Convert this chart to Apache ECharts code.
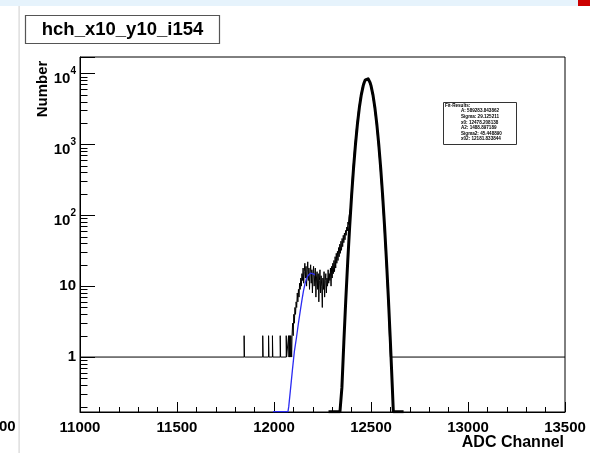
<!DOCTYPE html>
<html>
<head>
<meta charset="utf-8">
<script src="https://cdn.jsdelivr.net/npm/echarts@6/dist/echarts.min.js"></script>
<style>
  html, body { margin: 0; padding: 0; background: #fff; }
  #chart { width: 590px; height: 453px; }
</style>
</head>
<body>
<div id="chart"></div>
<script>
// ---- Histogram hch_x10_y10_i154 : ADC channel spectrum ----
const xMin = 11000, xMax = 13500, xStep = 500;
const yMin = 0.168, yMax = 17000;
const yMinorTicks = [0.2, 0.3, 0.4, 0.5, 0.6, 0.7, 0.8, 0.9,
  2, 3, 4, 5, 6, 7, 8, 9,
  20, 30, 40, 50, 60, 70, 80, 90,
  200, 300, 400, 500, 600, 700, 800, 900,
  2000, 3000, 4000, 5000, 6000, 7000, 8000, 9000];

// sparse low-side channels: left edge of each run and its content
const lowEdges  = [11000, 11846, 11848, 11942, 11944, 11972, 11974, 11992, 11994, 12032, 12034,
  12063, 12065, 12075, 12077, 12079, 12080, 12083, 12085, 12087, 12091, 12093];
const lowCounts = [1, 2, 1, 2, 1, 2, 1, 2, 1, 2, 1,
  2, 1, 2, 1, 2, 1, 2, 1, 2, 1, 2];

// shoulder region, 3-channel bins starting at 12096
const shoulderStart = 12096, shoulderWidth = 3;
const shoulderCounts = [3, 2, 4, 3, 5, 4, 6, 5, 8, 6, 9, 7, 11, 9, 13, 10, 15, 12, 18, 11,
  16, 21, 13, 19, 10, 17, 22, 12, 18, 9, 16, 20, 11, 17, 8, 15, 19, 10, 14, 18,
  7, 13, 16, 9, 15, 6, 12, 17, 8, 14, 10, 5, 13, 9, 16, 7, 12, 15, 8, 13,
  10, 17, 11, 15, 12, 18, 10, 19, 13, 21, 15, 23, 16, 26, 18, 29, 21, 31, 23, 35,
  26, 39, 29, 43, 32, 47, 36, 52, 41, 56, 45, 61, 52, 68, 60, 80, 74, 96, 100, 120, 132];

// main peak, 5-channel bins starting at 12400
const peakStart = 12400, peakWidth = 5;
const peakCounts = [236, 378, 561, 840, 1182, 1662, 2210, 2917, 3670, 4552, 5405, 6310, 7070,
  7762, 8205, 8480, 8455, 8238, 7731, 7102, 6275, 5440, 4521, 3697, 2890, 2236, 1641, 1198,
  826, 570, 369, 242, 147, 91, 52, 30, 17, 9, 5, 2];

// high-side flat part
const highEdges  = [12600, 13500];
const highCounts = [1, 1];

// Gaussian fit of the main peak (sampled curve)
const fitX = [12281, 12340, 12345, 12350, 12360, 12370, 12380, 12390, 12400, 12410, 12420,
  12430, 12440, 12450, 12460, 12465, 12470, 12475, 12480, 12485, 12490, 12495, 12500,
  12510, 12520, 12530, 12540, 12550, 12560, 12570, 12580, 12590, 12600, 12610, 12615, 12668];
const fitY = [0.17, 0.17, 0.17, 0.37, 1.62, 6.4, 22.2, 68.9, 189, 461, 1000,
  1925, 3285, 4980, 6700, 7436, 8010, 8375, 8500, 8375, 8010, 7436, 6700,
  4980, 3285, 1925, 1000, 461, 189, 68.9, 22.2, 6.4, 1.62, 0.37, 0.17, 0.17];

// Gaussian fit of the shoulder (sampled curve)
const fit2X = [11995, 12072, 12076, 12085, 12095, 12105, 12116, 12126, 12136, 12145, 12152,
  12160, 12167, 12175, 12182, 12188, 12195, 12202, 12210];
const fit2Y = [0.17, 0.17, 0.2, 0.35, 0.66, 1.2, 1.9, 3.0, 4.6, 6.6, 8.6,
  10.8, 12.6, 14.0, 14.9, 15.2, 15.2, 14.9, 14.4];

const fitResults = ['Fit-Results:', 'A: 589283.843862', 'Sigma: 29.125211', 'x0: 12478.208138',
  'A2: 1488.897189', 'Sigma2: 45.448890', 'x02: 12181.833844'];

// ---- build step-histogram points ----
const histPoints = [];
lowEdges.forEach((e, i) => histPoints.push([e, lowCounts[i]]));
shoulderCounts.forEach((c, i) => histPoints.push([shoulderStart + i * shoulderWidth, c]));
peakCounts.forEach((c, i) => histPoints.push([peakStart + i * peakWidth, c]));
highEdges.forEach((e, i) => histPoints.push([e, highCounts[i]]));

const FONT = 'Liberation Sans, Arial, Helvetica, sans-serif';

const isDecade = v => Math.abs(Math.log10(v) - Math.round(Math.log10(v))) < 1e-6;

const chart = echarts.init(document.getElementById('chart'), null, { renderer: 'canvas' });

// statistics box: frame plus one text line per fit parameter
const fitBox = [{ type: 'rect', shape: { x: 443.5, y: 102.5, width: 73, height: 42 },
  style: { fill: '#fff', stroke: '#333', lineWidth: 1 } }].concat(
  fitResults.map((t, i) => ({
    type: 'text',
    x: i === 0 ? 445 : 461,
    y: 105.5 + i * 5.6,
    style: { text: t, font: 'bold 4.6px ' + FONT, fill: '#000', verticalAlign: 'middle' }
  })));

chart.setOption({
  animation: false,
  backgroundColor: '#fff',
  grid: { left: 80, right: 25, top: 57, bottom: 41, show: true, borderColor: '#000', borderWidth: 1 },
  xAxis: {
    type: 'value', min: xMin, max: xMax, interval: xStep,
    axisLine: { show: true, lineStyle: { color: '#000', width: 1 } },
    axisTick: { show: true, inside: true, length: 10, lineStyle: { color: '#000' } },
    minorTick: { show: true, splitNumber: 5, length: 5, lineStyle: { color: '#000' } },
    splitLine: { show: false },
    axisLabel: { color: '#000', fontFamily: FONT, fontWeight: 'bold', fontSize: 15, margin: 8,
      formatter: v => String(v) }
  },
  yAxis: {
    type: 'log', logBase: 10, min: yMin, max: yMax,
    axisLine: { show: true, lineStyle: { color: '#000', width: 1 } },
    axisTick: { show: true, inside: true, length: 15, lineStyle: { color: '#000' } },
    splitLine: { show: false },
    axisLabel: {
      color: '#000', fontFamily: FONT, fontWeight: 'bold', fontSize: 15, margin: 4,
      formatter: v => {
        if (!isDecade(v)) return '';
        const n = Math.round(Math.log10(v));
        if (n === 0) return '1';
        if (n === 1) return '10';
        return '{b|10}{s|' + n + '}';
      },
      rich: {
        b: { fontFamily: FONT, fontWeight: 'bold', fontSize: 15, color: '#000', padding: [12, 0, 0, 0] },
        s: { fontFamily: FONT, fontWeight: 'bold', fontSize: 10, color: '#000', padding: [0, 0, 4, 0] }
      }
    }
  },
  series: [
    {
      name: 'hch_x10_y10_i154', type: 'line', step: 'end', data: histPoints,
      showSymbol: false, symbol: 'none', clip: true, z: 2,
      lineStyle: { color: '#000', width: 1 }
    },
    {
      name: 'fit2', type: 'line', data: fit2X.map((x, i) => [x, fit2Y[i]]),
      showSymbol: false, symbol: 'none', clip: true, z: 3,
      lineStyle: { color: '#2b2bf2', width: 1.3 }
    },
    {
      name: 'fit', type: 'line', data: fitX.map((x, i) => [x, fitY[i]]),
      showSymbol: false, symbol: 'none', clip: true, z: 4,
      lineStyle: { color: '#000', width: 3, join: 'round' }
    },
    {
      // log-axis minor ticks at 2..9 of each decade
      name: 'minorTicks', type: 'custom', coordinateSystem: 'cartesian2d', silent: true, z: 5,
      data: yMinorTicks.map(v => [xMin, v]),
      renderItem: (params, api) => {
        const p = api.coord([api.value(0), api.value(1)]);
        const y = Math.round(p[1]) + 0.5;
        return { type: 'line', shape: { x1: p[0], y1: y, x2: p[0] + 7.5, y2: y },
          style: { stroke: '#000', lineWidth: 1 } };
      }
    }
  ],
  graphic: [
    { type: 'rect', shape: { x: 0, y: 0, width: 590, height: 6 }, style: { fill: '#e6f3fc' }, silent: true },
    { type: 'rect', shape: { x: 578, y: 0, width: 12, height: 6 }, style: { fill: '#cc0000' }, silent: true },
    { type: 'rect', shape: { x: 18.5, y: 6, width: 1.2, height: 447 }, style: { fill: '#d6d6d6' }, silent: true },
    { type: 'text', x: -1, y: 427, style: { text: '00', font: 'bold 15px ' + FONT, fill: '#000', verticalAlign: 'middle' } },
    { type: 'rect', shape: { x: 25.5, y: 15.5, width: 194, height: 28 },
      style: { fill: '#fff', stroke: '#555', lineWidth: 1.2 } },
    { type: 'text', x: 122.5, y: 30, style: { text: 'hch_x10_y10_i154', font: 'bold 18.5px ' + FONT,
      fill: '#000', align: 'center', verticalAlign: 'middle' } },
    { type: 'text', x: 43, y: 89, rotation: Math.PI / 2,
      style: { text: 'Number', font: 'bold 15px ' + FONT, fill: '#000', align: 'center', verticalAlign: 'middle' } },
    { type: 'text', x: 564, y: 443,
      style: { text: 'ADC Channel', font: 'bold 16px ' + FONT, fill: '#000', align: 'right', verticalAlign: 'middle' } },
    { type: 'group', z: 10, children: fitBox }
  ]
});
</script>
</body>
</html>
